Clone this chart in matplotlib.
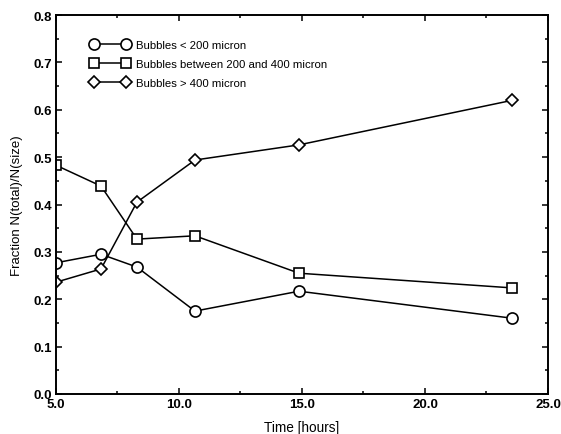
import numpy as np
import matplotlib.pyplot as plt
from matplotlib.ticker import MultipleLocator

# tempi di misura [ore]
time_h = [5.0, 6.83, 8.29, 10.65, 14.88, 23.54]

# frazioni per classe di dimensione
small = [0.277, 0.295, 0.268, 0.175, 0.217, 0.160]
medium = [0.483, 0.439, 0.327, 0.334, 0.255, 0.224]
large = [0.236, 0.264, 0.405, 0.494, 0.526, 0.620]

labels = ['Bubbles < 200 micron',
          'Bubbles between 200 and 400 micron',
          'Bubbles > 400 micron']

plt.rcParams['font.family'] = ['Liberation Sans', 'DejaVu Sans']

fig = plt.figure(figsize=(5.61, 4.35), dpi=100)
ax = fig.add_axes([0.0998, 0.092, 0.8770, 0.871])

style = dict(color='black', lw=1.1, mfc='white', mec='black', mew=1.2)
ax.plot(time_h, small, marker='o', ms=8, label=labels[0], **style)
ax.plot(time_h, medium, marker='s', ms=7, label=labels[1], **style)
ax.plot(time_h, large, marker='D', ms=6, label=labels[2], **style)

ax.set_xlim(5, 25)
ax.set_ylim(0, 0.8)
ax.xaxis.set_major_locator(MultipleLocator(5))
ax.xaxis.set_minor_locator(MultipleLocator(2.5))
ax.yaxis.set_major_locator(MultipleLocator(0.1))
ax.yaxis.set_minor_locator(MultipleLocator(0.05))
ax.xaxis.set_major_formatter(lambda v, p: f'{v:.1f}')
ax.yaxis.set_major_formatter(lambda v, p: f'{v:.1f}')

ax.tick_params(which='both', direction='in', top=True, right=True, width=1.1)
ax.tick_params(which='major', length=4, labelsize=9.5, pad=3)
ax.tick_params(which='minor', length=2.5)
for lab in ax.get_xticklabels() + ax.get_yticklabels():
    lab.set_fontweight('bold')
for s in ax.spines.values():
    s.set_linewidth(1.4)

ax.set_xlabel('Time [hours]', fontsize=9.8, labelpad=7)
ax.set_ylabel('Fraction N(total)/N(size)', fontsize=9.5, labelpad=7)

ax.legend(loc='upper left', bbox_to_anchor=(0.061, 0.946), frameon=False,
          numpoints=2, handlelength=3.4, handletextpad=0.6,
          labelspacing=0.78, fontsize=8.2, borderaxespad=0)

fig.savefig('out.png', dpi=100)
